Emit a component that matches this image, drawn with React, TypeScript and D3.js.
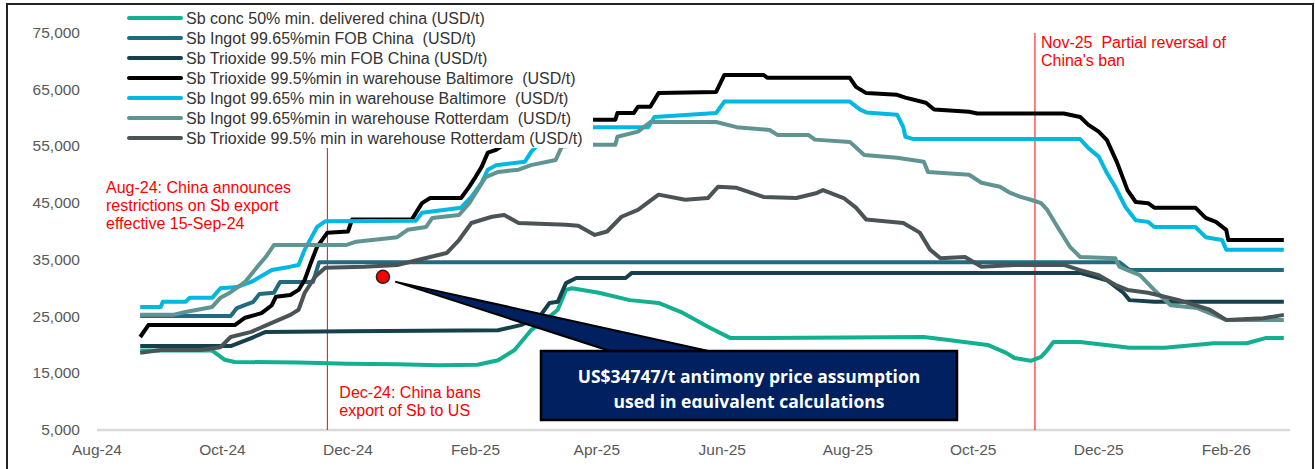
import React from "react";
import * as d3 from "d3";

// price series, [date, USD/t]
const concDelivered: [string, number][] = [
  ["2024-08-22", 19000], ["2024-09-20", 19000], ["2024-09-26", 19000], ["2024-10-02", 17400],
  ["2024-10-07", 17000], ["2024-11-07", 16900], ["2024-12-01", 16700], ["2024-12-25", 16600],
  ["2025-01-14", 16400], ["2025-02-02", 16500], ["2025-02-12", 17300], ["2025-02-20", 19100],
  ["2025-02-28", 22600], ["2025-03-07", 24400], ["2025-03-13", 26200], ["2025-03-17", 29700],
  ["2025-03-20", 30000], ["2025-04-02", 29200], ["2025-04-17", 27900], ["2025-05-01", 27400],
  ["2025-05-12", 25800], ["2025-05-25", 23200], ["2025-06-05", 21200], ["2025-06-21", 21200],
  ["2025-08-01", 21300], ["2025-09-07", 21400], ["2025-09-18", 20900], ["2025-10-08", 20000],
  ["2025-10-17", 18600], ["2025-10-21", 17700], ["2025-10-29", 17200], ["2025-11-03", 17900],
  ["2025-11-06", 19100], ["2025-11-09", 20500], ["2025-11-22", 20500], ["2025-12-16", 19500],
  ["2026-01-02", 19500], ["2026-01-26", 20300], ["2026-02-11", 20300], ["2026-02-20", 21200],
  ["2026-03-01", 21200],
];

const ingotFob: [string, number][] = [
  ["2024-08-22", 25100], ["2024-10-05", 25100], ["2024-10-08", 26500], ["2024-10-16", 27600],
  ["2024-10-19", 29000], ["2024-10-26", 29200], ["2024-10-29", 31100], ["2024-11-14", 31100],
  ["2024-11-17", 34600], ["2025-12-11", 34600], ["2025-12-16", 33200], ["2026-03-01", 33200],
];

const trioxideFob: [string, number][] = [
  ["2024-08-22", 19800], ["2024-10-05", 19800], ["2024-10-15", 21200], ["2024-10-22", 22300],
  ["2024-12-01", 22400], ["2025-02-12", 22600], ["2025-02-23", 23500], ["2025-03-04", 24900],
  ["2025-03-09", 27400], ["2025-03-13", 27600], ["2025-03-17", 30900], ["2025-03-22", 31800],
  ["2025-04-15", 31800], ["2025-04-18", 32700], ["2025-11-22", 32700], ["2025-12-05", 31400],
  ["2025-12-13", 29200], ["2025-12-16", 27900], ["2025-12-28", 27600], ["2026-03-01", 27600],
];

const trioxideBaltimore: [string, number][] = [
  ["2024-08-22", 21400], ["2024-08-26", 23500], ["2024-10-07", 23500], ["2024-10-12", 24800],
  ["2024-10-20", 25600], ["2024-10-25", 27000], ["2024-10-27", 28500], ["2024-11-03", 28800],
  ["2024-11-07", 29700], ["2024-11-10", 31500], ["2024-11-13", 34500], ["2024-11-16", 37300],
  ["2024-11-21", 39800], ["2024-12-01", 40000], ["2024-12-03", 42100], ["2025-01-01", 42100],
  ["2025-01-06", 45000], ["2025-01-10", 45900], ["2025-01-25", 45900], ["2025-01-29", 47900],
  ["2025-02-01", 49600], ["2025-02-04", 51400], ["2025-02-07", 53900], ["2025-02-11", 54400],
  ["2025-02-22", 57000], ["2025-03-30", 59700], ["2025-04-10", 59700], ["2025-04-11", 60900],
  ["2025-04-19", 60900], ["2025-04-21", 62000], ["2025-04-27", 62000], ["2025-05-01", 64400],
  ["2025-05-29", 64600], ["2025-06-02", 67600], ["2025-06-21", 67600], ["2025-06-23", 67100],
  ["2025-08-02", 67100], ["2025-08-05", 65500], ["2025-08-10", 64400], ["2025-08-25", 64100],
  ["2025-08-29", 63600], ["2025-09-08", 62700], ["2025-09-12", 61500], ["2025-09-29", 61100],
  ["2025-10-03", 60800], ["2025-11-14", 60800], ["2025-11-22", 60200], ["2025-11-26", 58800],
  ["2025-12-01", 57600], ["2025-12-05", 56100], ["2025-12-10", 52100], ["2025-12-15", 47300],
  ["2025-12-19", 45200], ["2025-12-25", 45000], ["2025-12-28", 44200], ["2026-01-17", 44200],
  ["2026-01-22", 42400], ["2026-01-27", 41700], ["2026-02-01", 40300], ["2026-02-02", 38500],
  ["2026-03-01", 38500],
];

const ingotBaltimore: [string, number][] = [
  ["2024-08-22", 26700], ["2024-09-01", 26700], ["2024-09-02", 27600], ["2024-09-13", 27600],
  ["2024-09-15", 28300], ["2024-09-26", 28300], ["2024-09-30", 30000], ["2024-10-08", 30200],
  ["2024-10-15", 31100], ["2024-10-25", 33200], ["2024-11-03", 33800], ["2024-11-07", 34100],
  ["2024-11-10", 36800], ["2024-11-16", 40800], ["2024-11-20", 41800], ["2025-01-03", 41900],
  ["2025-01-06", 43300], ["2025-01-25", 44200], ["2025-01-30", 46100], ["2025-02-04", 48600],
  ["2025-02-07", 50900], ["2025-02-11", 51700], ["2025-02-25", 52300], ["2025-02-28", 54000],
  ["2025-03-06", 56500], ["2025-03-30", 58400], ["2025-04-26", 58400], ["2025-04-29", 60200],
  ["2025-05-29", 60900], ["2025-06-02", 62900], ["2025-08-02", 62900], ["2025-08-07", 61500],
  ["2025-08-10", 61000], ["2025-08-25", 60600], ["2025-08-28", 58400], ["2025-08-29", 56700],
  ["2025-09-02", 56300], ["2025-11-22", 56300], ["2025-11-26", 54700], ["2025-12-01", 53200],
  ["2025-12-05", 50300], ["2025-12-09", 47900], ["2025-12-14", 44300], ["2025-12-19", 42000],
  ["2025-12-25", 41700], ["2025-12-28", 40800], ["2026-01-17", 40800], ["2026-01-22", 39000],
  ["2026-01-30", 38500], ["2026-02-01", 36800], ["2026-03-01", 36800],
];

const ingotRotterdam: [string, number][] = [
  ["2024-08-22", 25300], ["2024-09-07", 25300], ["2024-09-13", 25800], ["2024-09-26", 26700],
  ["2024-09-30", 28300], ["2024-10-05", 29300], ["2024-10-12", 31100], ["2024-10-18", 33800],
  ["2024-10-22", 35500], ["2024-10-26", 37600], ["2024-11-30", 37600], ["2024-12-05", 38200],
  ["2024-12-25", 39000], ["2024-12-30", 40300], ["2025-01-08", 40800], ["2025-01-11", 42400],
  ["2025-01-24", 42900], ["2025-01-29", 45000], ["2025-02-06", 49600], ["2025-02-12", 50500],
  ["2025-02-22", 50900], ["2025-02-28", 51700], ["2025-03-12", 52600], ["2025-03-15", 55000],
  ["2025-03-30", 55300], ["2025-04-10", 55300], ["2025-04-11", 56700], ["2025-04-21", 57600],
  ["2025-04-27", 59300], ["2025-05-29", 59300], ["2025-06-08", 58400], ["2025-06-24", 57900],
  ["2025-06-28", 57000], ["2025-07-13", 57000], ["2025-07-16", 56200], ["2025-08-02", 55800],
  ["2025-08-09", 53500], ["2025-08-25", 53000], ["2025-09-07", 52300], ["2025-09-09", 50500],
  ["2025-09-29", 50000], ["2025-10-05", 48600], ["2025-10-14", 47900], ["2025-10-19", 46800],
  ["2025-10-24", 46100], ["2025-10-29", 45600], ["2025-11-03", 45000], ["2025-11-06", 43800],
  ["2025-11-11", 40800], ["2025-11-17", 37300], ["2025-11-22", 35500], ["2025-12-09", 35300],
  ["2025-12-11", 33800], ["2025-12-15", 33200], ["2025-12-21", 32300], ["2025-12-28", 29700],
  ["2026-01-05", 27000], ["2026-01-18", 26500], ["2026-02-01", 24400], ["2026-03-01", 24400],
];

const trioxideRotterdam: [string, number][] = [
  ["2024-08-22", 18600], ["2024-09-01", 19100], ["2024-09-20", 19100], ["2024-09-30", 19600],
  ["2024-10-05", 21400], ["2024-10-15", 22300], ["2024-10-25", 23900], ["2024-11-03", 25300],
  ["2024-11-07", 26200], ["2024-11-10", 29200], ["2024-11-15", 32000], ["2024-11-20", 33600],
  ["2024-12-09", 33800], ["2024-12-25", 34100], ["2025-01-10", 35500], ["2025-01-18", 36200],
  ["2025-01-24", 38500], ["2025-01-30", 41500], ["2025-02-09", 42600], ["2025-02-15", 42900],
  ["2025-02-22", 41500], ["2025-03-17", 41200], ["2025-03-23", 41000], ["2025-03-31", 39400],
  ["2025-04-06", 40000], ["2025-04-13", 42600], ["2025-04-21", 43800], ["2025-05-01", 46500],
  ["2025-05-14", 45600], ["2025-05-25", 45900], ["2025-05-30", 47900], ["2025-06-08", 47700],
  ["2025-06-21", 46100], ["2025-07-07", 45900], ["2025-07-17", 46800], ["2025-07-20", 47300],
  ["2025-07-30", 45900], ["2025-08-05", 44200], ["2025-08-10", 42100], ["2025-08-28", 41500],
  ["2025-09-05", 39800], ["2025-09-10", 36800], ["2025-09-15", 35300], ["2025-09-27", 35500],
  ["2025-10-05", 33800], ["2025-10-21", 34100], ["2025-11-14", 34100], ["2025-11-22", 33200],
  ["2025-12-01", 32300], ["2025-12-09", 30600], ["2025-12-15", 29700], ["2025-12-25", 29200],
  ["2026-01-09", 27900], ["2026-01-24", 26200], ["2026-02-01", 24400], ["2026-02-19", 24700],
  ["2026-03-01", 25300],
];

const seriesNames = [
  "Sb conc 50% min. delivered china (USD/t)",
  "Sb Ingot 99.65%min FOB China  (USD/t)",
  "Sb Trioxide 99.5% min FOB China (USD/t)",
  "Sb Trioxide 99.5%min in warehouse Baltimore  (USD/t)",
  "Sb Ingot 99.65% min in warehouse Baltimore  (USD/t)",
  "Sb Ingot 99.65%min in warehouse Rotterdam  (USD/t)",
  "Sb Trioxide 99.5% min in warehouse Rotterdam (USD/t)",
];
const seriesData = [concDelivered, ingotFob, trioxideFob, trioxideBaltimore, ingotBaltimore, ingotRotterdam, trioxideRotterdam];
const seriesColors = ["#12B08F", "#216A80", "#17404D", "#000000", "#00B8E2", "#5F9492", "#4A5457"];

const yTicks = [5000, 15000, 25000, 35000, 45000, 55000, 65000, 75000];
const xTickLabels = ["Aug-24", "Oct-24", "Dec-24", "Feb-25", "Apr-25", "Jun-25", "Aug-25", "Oct-25", "Dec-25", "Feb-26"];
const xTickDates = ["2024-08-01", "2024-10-01", "2024-12-01", "2025-02-01", "2025-04-01", "2025-06-01", "2025-08-01", "2025-10-01", "2025-12-01", "2026-02-01"];

const events = [
  { date: "2024-11-21", lines: ["Dec-24: China bans", "export of Sb to US"] },
  { date: "2025-10-31", lines: ["Nov-25  Partial reversal of", "China's ban"] },
];
const announceNote = ["Aug-24: China announces", "restrictions on Sb export", "effective 15-Sep-24"];
const assumptionPoint: [string, number] = ["2024-12-18", 32000];
const calloutLines = ["US$34747/t antimony price assumption", "used in equivalent calculations"];

const W = 1315;
const H = 469;
const parse = d3.utcParse("%Y-%m-%d");

export default function App() {
  const x = d3.scaleUtc()
    .domain([parse("2024-08-01")!, parse("2026-03-04")!])
    .range([97, 1290]);
  const y = d3.scaleLinear().domain([5000, 75000]).range([430, 33]);

  const line = d3.line<[string, number]>()
    .x((d) => x(parse(d[0])!))
    .y((d) => y(d[1]));

  const font = "'Liberation Sans', Arial, sans-serif";
  const dotX = x(parse(assumptionPoint[0])!);
  const dotY = y(assumptionPoint[1]);
  const box = { x0: 541, x1: 957, y0: 351, y1: 420 };

  return (
    <svg width={W} height={H} style={{ position: "absolute", left: 0, top: 0, background: "#fff" }} fontFamily={font}>
      <defs>
        <clipPath id="calloutClip">
          <rect x={box.x0} y={box.y0} width={box.x1 - box.x0} height={57} />
        </clipPath>
      </defs>

      {/* frame */}
      <rect x={7} y={4} width={1306} height={480} fill="none" stroke="#222" strokeWidth={2} />

      {/* y axis labels */}
      {yTicks.map((t) => (
        <text key={t} x={80} y={y(t) + 5} textAnchor="end" fontSize={15.5} fill="#595959">
          {d3.format(",")(t)}
        </text>
      ))}

      {/* x axis */}
      <line x1={97} x2={1290} y1={y(5000)} y2={y(5000)} stroke="#D9D9D9" strokeWidth={2.5} />
      {xTickLabels.map((lab, i) => (
        <text key={lab} x={x(parse(xTickDates[i])!)} y={455} textAnchor="middle" fontSize={15.5} fill="#595959">
          {lab}
        </text>
      ))}

      {/* event lines */}
      {events.map((e) => (
        <line key={e.date} x1={x(parse(e.date)!)} x2={x(parse(e.date)!)} y1={33} y2={y(5000)} stroke="#FF0000" strokeWidth={1} />
      ))}

      {/* series */}
      {seriesData.map((s, i) => (
        <path key={i} d={line(s)!} fill="none" stroke={seriesColors[i]} strokeWidth={4} strokeLinejoin="round" />
      ))}

      {/* legend (opaque, sits over the lines) */}
      <rect x={100} y={6} width={493} height={142} fill="#fff" />
      {seriesNames.map((n, i) => (
        <g key={n} transform={`translate(0,${18 + i * 20})`}>
          <line x1={129} x2={181} y1={0} y2={0} stroke={seriesColors[i]} strokeWidth={4} strokeLinecap="round" />
          <text x={186} y={5.5} fontSize={16} fill="#333" style={{ whiteSpace: "pre" }}>{n}</text>
        </g>
      ))}

      {/* annotations */}
      {announceNote.map((t, i) => (
        <text key={t} x={106} y={193 + i * 18} fontSize={16} fill="#FF0000">{t}</text>
      ))}
      {events.map((e, k) =>
        e.lines.map((t, i) => (
          <text key={t} x={x(parse(e.date)!) + (k === 0 ? 12 : 6)} y={(k === 0 ? 398 : 48) + i * 18} fontSize={16} fill="#FF0000" style={{ whiteSpace: "pre" }}>
            {t}
          </text>
        ))
      )}

      {/* callout */}
      <circle cx={dotX} cy={dotY} r={6.5} fill="#FF0000" stroke="#222" strokeWidth={1.5} />
      <path
        d={`M${dotX + 13},${dotY + 5} L${box.x0 + 72},${box.y0 + 1} L${box.x0 + 172},${box.y0 + 1} Z`}
        fill="#002060"
        stroke="#000"
        strokeWidth={2}
        strokeLinejoin="round"
      />
      <rect x={box.x0} y={box.y0} width={box.x1 - box.x0} height={box.y1 - box.y0} fill="#002060" stroke="#000" strokeWidth={2.5} />
      <g clipPath="url(#calloutClip)">
        {calloutLines.map((t, i) => (
          <text key={t} x={(box.x0 + box.x1) / 2} y={383 + i * 25} textAnchor="middle" fontSize={17.5} fontWeight="bold" fill="#fff" fontFamily="'Open Sans', 'Noto Sans', sans-serif">
            {t}
          </text>
        ))}
      </g>
    </svg>
  );
}
